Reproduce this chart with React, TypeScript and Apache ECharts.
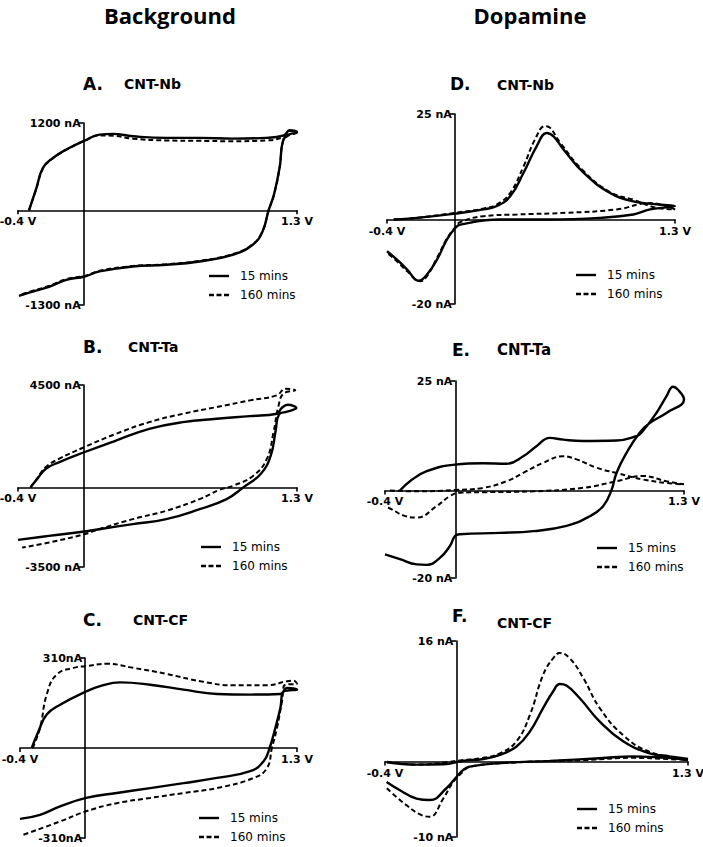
import { useEffect, useRef } from "react";
import * as echarts from "echarts";

type Pt = [number, number];

// ---------- data (potential V, current nA) ----------
const X_RANGE: [number, number] = [-0.4, 1.3];
const X_TICK_LABELS = ["-0.4 V", "1.3 V"];
const SERIES_NAMES = ["15 mins", "160 mins"];
const COLUMN_HEADERS = ["Background", "Dopamine"];
const PANEL_LETTERS = ["A.", "B.", "C.", "D.", "E.", "F."];
const PANEL_NAMES = ["CNT-Nb", "CNT-Ta", "CNT-CF", "CNT-Nb", "CNT-Ta", "CNT-CF"];
const Y_RANGES: [number, number][] = [
  [-1300, 1200],
  [-3500, 4500],
  [-310, 310],
  [-20, 25],
  [-20, 25],
  [-10, 16],
];
const Y_UNITS = [" nA", " nA", "nA", " nA", " nA", " nA"];

const A_15: Pt[] = [[-0.333,0],[-0.288,307],[-0.248,583],[-0.187,720],[-0.106,835],[0.006,959],[0.097,1041],[0.178,1050],[0.30,1018],[0.503,995],[0.705,995],[0.908,986],[1.11,995],[1.22,1030],[1.255,1100],[1.29,1090],[1.30,1075],[1.25,1040],[1.215,960],[1.195,600],[1.16,220],[1.127,0],[1.09,-289],[1.03,-472],[0.908,-610],[0.705,-702],[0.503,-748],[0.30,-771],[0.097,-839],[0.006,-908],[-0.106,-954],[-0.207,-1046],[-0.309,-1115],[-0.394,-1174]];
const A_160: Pt[] = [[-0.333,0],[-0.288,300],[-0.248,575],[-0.187,715],[-0.106,830],[0.006,955],[0.097,1030],[0.178,1025],[0.30,985],[0.503,960],[0.705,955],[0.908,950],[1.11,960],[1.22,1010],[1.255,1090],[1.29,1085],[1.30,1070],[1.25,1030],[1.215,950],[1.195,600],[1.16,215],[1.127,0],[1.09,-285],[1.03,-465],[0.908,-600],[0.705,-695],[0.503,-740],[0.30,-765],[0.097,-830],[0.006,-900],[-0.106,-945],[-0.207,-1035],[-0.309,-1105],[-0.394,-1165]];

const B_15: Pt[] = [[-0.324,0],[-0.283,368],[-0.232,809],[-0.151,1103],[0.003,1544],[0.197,2059],[0.40,2574],[0.605,2868],[0.81,3015],[1.014,3132],[1.177,3235],[1.208,3500],[1.243,3632],[1.296,3485],[1.24,3330],[1.19,3200],[1.17,2500],[1.14,1400],[1.08,600],[0.973,0],[0.871,-515],[0.707,-956],[0.503,-1397],[0.299,-1618],[0.094,-1838],[0.003,-1941],[-0.212,-2132],[-0.4,-2309]];
const B_160: Pt[] = [[-0.324,0],[-0.283,400],[-0.232,882],[-0.151,1250],[0.003,1765],[0.197,2353],[0.40,2868],[0.605,3235],[0.81,3529],[1.014,3824],[1.177,4044],[1.229,4338],[1.29,4265],[1.218,4118],[1.188,3603],[1.157,2426],[1.116,1250],[1.034,515],[0.912,74],[0.83,-103],[0.707,-515],[0.503,-1029],[0.299,-1397],[0.094,-1838],[0.003,-2059],[-0.212,-2426],[-0.375,-2647]];

const C_15: Pt[] = [[-0.328,0],[-0.287,57],[-0.236,115],[-0.154,149],[0.006,195],[0.092,213],[0.214,226],[0.399,218],[0.604,201],[0.809,186],[1.013,184],[1.198,186],[1.239,207],[1.30,201],[1.218,195],[1.198,138],[1.167,69],[1.132,0],[1.095,-46],[1.013,-80],[0.809,-103],[0.604,-121],[0.399,-138],[0.194,-155],[0.006,-172],[-0.154,-201],[-0.277,-230],[-0.4,-244]];
const C_160: Pt[] = [[-0.322,0],[-0.277,69],[-0.236,184],[-0.175,253],[-0.072,276],[0.006,282],[0.133,290],[0.296,276],[0.501,255],[0.706,230],[0.911,216],[1.116,216],[1.239,230],[1.28,232],[1.30,221],[1.228,218],[1.208,161],[1.177,69],[1.146,0],[1.116,-69],[1.034,-103],[0.809,-138],[0.604,-155],[0.399,-172],[0.194,-190],[0.006,-218],[-0.154,-253],[-0.38,-299]];

const D_15: Pt[] = [[-0.36,0],[-0.223,0.4],[0.003,1.4],[0.17,2.4],[0.249,3.2],[0.327,5.5],[0.406,11.1],[0.484,17.4],[0.543,20.5],[0.583,19.7],[0.642,16.6],[0.76,11.1],[0.917,6.3],[1.054,4.3],[1.192,3.6],[1.30,3.2],[1.153,2.4],[1.054,1.2],[0.858,0.4],[0.563,0],[0.268,0],[0.032,-1.2],[0.003,-2.0],[-0.046,-4.7],[-0.105,-9.5],[-0.164,-13.0],[-0.213,-14.5],[-0.282,-11.8],[-0.341,-9.5],[-0.4,-7.5]];
const D_160: Pt[] = [[-0.36,0],[-0.223,0.4],[0.003,1.6],[0.17,2.6],[0.249,3.6],[0.327,6.3],[0.406,12.6],[0.474,19.0],[0.533,22.1],[0.563,21.7],[0.622,18.2],[0.76,11.5],[0.917,6.5],[1.054,4.7],[1.192,2.8],[1.30,2.4],[1.153,3.9],[0.956,2.4],[0.661,1.6],[0.367,1.2],[0.17,0.8],[0.032,-0.6],[0.003,-1.8],[-0.046,-4.5],[-0.105,-9.1],[-0.164,-13.4],[-0.203,-14.6],[-0.282,-12.2],[-0.341,-9.9],[-0.4,-7.9]];

const E_15: Pt[] = [[-0.315,0],[-0.258,2.1],[-0.163,4.4],[-0.002,5.9],[0.158,6.2],[0.291,6.1],[0.386,7.8],[0.461,10.1],[0.537,12.0],[0.613,11.6],[0.726,11.3],[0.916,11.4],[1.029,12.4],[1.058,13.2],[1.143,17.7],[1.2,21.5],[1.238,23.7],[1.266,23.0],[1.30,20.8],[1.2,17.7],[1.105,15.4],[1.048,13.2],[0.973,8.6],[0.916,4.0],[0.887,0],[0.84,-3.6],[0.764,-5.9],[0.632,-8.1],[0.443,-9.3],[0.253,-9.7],[0.026,-10.0],[-0.002,-10.4],[-0.031,-12.7],[-0.088,-15.4],[-0.163,-17.0],[-0.22,-16.9],[-0.315,-15.7],[-0.4,-14.6]];
const E_160: Pt[] = [[-0.372,0],[-0.22,-0.2],[0,0.1],[0.158,0.6],[0.291,2.1],[0.386,4.0],[0.499,6.3],[0.613,7.8],[0.689,7.1],[0.802,5.2],[0.916,4.0],[1.067,2.5],[1.2,1.7],[1.30,1.4],[1.2,2.1],[1.067,3.3],[0.916,2.1],[0.726,0.6],[0.443,-0.2],[0.158,-0.4],[0.026,-0.5],[-0.031,-1.3],[-0.107,-3.6],[-0.22,-6.2],[-0.296,-5.7],[-0.362,-4.3],[-0.4,-3.6]];

const F_15: Pt[] = [[-0.39,-0.1],[-0.223,-0.4],[-0.073,-0.35],[0.039,0.1],[0.151,0.35],[0.245,0.9],[0.338,2.0],[0.413,4.0],[0.487,7.1],[0.543,9.3],[0.581,10.3],[0.618,10.1],[0.693,8.4],[0.805,5.3],[0.936,2.7],[1.085,1.1],[1.197,0.7],[1.30,0.35],[1.179,0.5],[0.992,0.7],[0.805,0.44],[0.525,0.1],[0.245,-0.2],[0.076,-0.66],[0.039,-1.1],[0.002,-2.0],[-0.054,-3.5],[-0.148,-5.1],[-0.223,-4.9],[-0.316,-3.8],[-0.391,-2.7]];
const F_160: Pt[] = [[-0.39,0],[-0.223,-0.4],[0.039,0.2],[0.151,0.5],[0.245,1.1],[0.338,2.7],[0.413,6.2],[0.487,11.5],[0.543,13.7],[0.581,14.4],[0.637,13.7],[0.712,11.1],[0.805,7.1],[0.936,3.5],[1.085,1.3],[1.30,0.2],[1.179,0.35],[0.992,0.5],[0.712,0.2],[0.338,-0.1],[0.076,-0.66],[0.039,-1.3],[-0.017,-2.7],[-0.073,-4.9],[-0.148,-7.3],[-0.195,-7.1],[-0.279,-5.8],[-0.391,-3.5]];

const PANEL_DATA: [Pt[], Pt[]][] = [
  [A_15, A_160],
  [B_15, B_160],
  [C_15, C_160],
  [D_15, D_160],
  [E_15, E_160],
  [F_15, F_160],
];

// ---------- layout ----------
const LAYOUT = [
  { left: 18, top: 123, width: 279, height: 182, lx: 83, ly: 84, nx: 124, ny: 84, lgx: 209, lgy: 269, ls: 17, ns: 14 },
  { left: 18, top: 385, width: 279, height: 182, lx: 83, ly: 347, nx: 128, ny: 347, lgx: 201, lgy: 540, ls: 17, ns: 14 },
  { left: 20, top: 658, width: 277, height: 180, lx: 83, ly: 620, nx: 133, ny: 620, lgx: 199, lgy: 811, ls: 17, ns: 14 },
  { left: 387, top: 114, width: 288, height: 190, lx: 450, ly: 84, nx: 497, ny: 85, lgx: 576, lgy: 268, ls: 17, ns: 14 },
  { left: 385, top: 381, width: 299, height: 197, lx: 452, ly: 350, nx: 497, ny: 350, lgx: 597, lgy: 541, ls: 17, ns: 15 },
  { left: 385, top: 641, width: 303, height: 196, lx: 452, ly: 616, nx: 497, ny: 623, lgx: 577, lgy: 802, ls: 17, ns: 14 },
];

const AXIS_FONT = { fontFamily: "DejaVu Sans", fontWeight: "bold" as const, fontSize: 11, color: "#000" };
const AXIS_LINE = { color: "#000", width: 1.6 };
const ICON_SOLID = "path://M0 0H20V2.4H0Z";
const ICON_DASHED = "path://M0 0H5V2.4H0Z M7.5 0H12.5V2.4H7.5Z M15 0H20V2.4H15Z";

function buildOption() {
  const grid: any[] = [];
  const xAxis: any[] = [];
  const yAxis: any[] = [];
  const series: any[] = [];
  const legend: any[] = [];
  const graphic: any[] = [];

  COLUMN_HEADERS.forEach((h, c) => {
    graphic.push({
      type: "text",
      x: c === 0 ? 170 : 530,
      y: 15,
      style: {
        text: h,
        fill: "#000",
        font: "bold 22px 'Open Sans'",
        align: "center",
        verticalAlign: "middle",
      },
    });
  });

  LAYOUT.forEach((L, i) => {
    const [ymin, ymax] = Y_RANGES[i];
    // pixel distances of the zero lines from the grid's left / bottom edges
    const yAxisShift = (L.width * (0 - X_RANGE[0])) / (X_RANGE[1] - X_RANGE[0]);
    const xAxisShift = (L.height * (0 - ymin)) / (ymax - ymin);
    grid.push({ left: L.left, top: L.top, width: L.width, height: L.height, containLabel: false, outerBoundsMode: "none" });
    xAxis.push({
      type: "value",
      gridIndex: i,
      position: "bottom",
      offset: -xAxisShift,
      min: X_RANGE[0],
      max: X_RANGE[1],
      axisLine: { show: true, onZero: false, lineStyle: AXIS_LINE },
      axisTick: { show: true, customValues: X_RANGE, length: 4, lineStyle: AXIS_LINE },
      axisLabel: {
        show: true,
        customValues: X_RANGE,
        margin: 6,
        ...AXIS_FONT,
        formatter: (v: number) => (Math.abs(v - X_RANGE[0]) < 1e-6 ? X_TICK_LABELS[0] : X_TICK_LABELS[1]),
      },
      splitLine: { show: false },
    });
    yAxis.push({
      type: "value",
      gridIndex: i,
      position: "left",
      offset: -yAxisShift,
      min: ymin,
      max: ymax,
      axisLine: { show: true, onZero: false, lineStyle: AXIS_LINE },
      axisTick: { show: true, customValues: [ymin, ymax], length: 5, lineStyle: AXIS_LINE },
      axisLabel: {
        show: true,
        customValues: [ymin, ymax],
        margin: 3,
        ...AXIS_FONT,
        formatter: (v: number) => `${v}${Y_UNITS[i]}`,
      },
      splitLine: { show: false },
    });
    const [solid, dashed] = PANEL_DATA[i];
    series.push({
      type: "line",
      name: SERIES_NAMES[0],
      xAxisIndex: i,
      yAxisIndex: i,
      data: solid,
      symbol: "none",
      smooth: 0.45,
      clip: false,
      color: "#000",
      lineStyle: { color: "#000", width: 2.4, type: "solid" },
      z: 3,
      silent: true,
    });
    series.push({
      type: "line",
      name: SERIES_NAMES[1],
      xAxisIndex: i,
      yAxisIndex: i,
      data: dashed,
      symbol: "none",
      smooth: 0.45,
      clip: false,
      color: "#000",
      lineStyle: { color: "#000", width: 2, type: [5, 3] },
      z: 2,
      silent: true,
    });
    legend.push({
      left: L.lgx,
      top: L.lgy,
      orient: "vertical",
      itemWidth: 20,
      itemHeight: 2.4,
      itemGap: 5,
      padding: 0,
      selectedMode: false,
      data: [
        { name: SERIES_NAMES[0], icon: ICON_SOLID },
        { name: SERIES_NAMES[1], icon: ICON_DASHED },
      ],
      itemStyle: { color: "#000" },
      textStyle: { fontFamily: "DejaVu Sans", fontSize: 12, color: "#000", padding: [0, 0, 0, 6], lineHeight: 14 },
    });
    graphic.push({
      type: "text",
      x: L.lx,
      y: L.ly,
      style: { text: PANEL_LETTERS[i], fill: "#000", font: `bold ${L.ls}px 'DejaVu Sans'`, align: "left", verticalAlign: "middle" },
    });
    graphic.push({
      type: "text",
      x: L.nx,
      y: L.ny,
      style: { text: PANEL_NAMES[i], fill: "#000", font: `bold ${L.ns}px 'DejaVu Sans'`, align: "left", verticalAlign: "middle" },
    });
  });

  return {
    animation: false,
    backgroundColor: "#fff",
    grid,
    xAxis,
    yAxis,
    series,
    legend,
    graphic,
  };
}

export default function App() {
  const ref = useRef<HTMLDivElement>(null);
  useEffect(() => {
    if (!ref.current) return;
    const chart = echarts.init(ref.current, undefined, { renderer: "svg" });
    chart.setOption(buildOption() as any);
    return () => chart.dispose();
  }, []);
  return (
    <div
      ref={ref}
      style={{ position: "fixed", left: 0, top: 0, width: 703, height: 847, background: "#fff" }}
    />
  );
}
